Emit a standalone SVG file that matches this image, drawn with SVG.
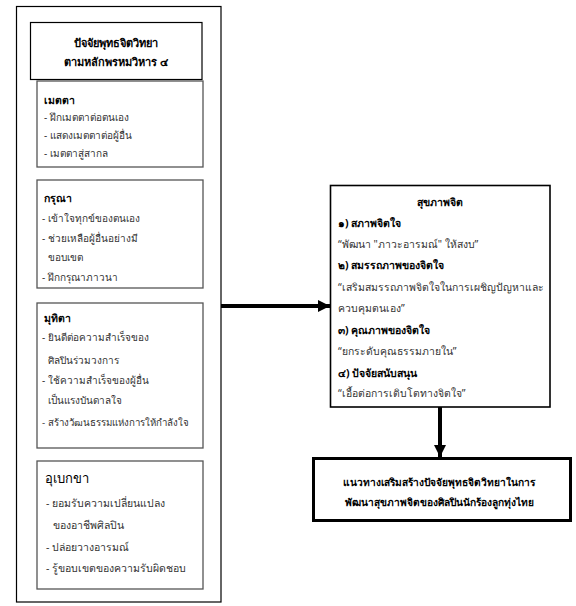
<svg xmlns="http://www.w3.org/2000/svg" width="576" height="606" viewBox="0 0 576 606">
<style>
text{font-family:"Noto Sans","DejaVu Sans","Liberation Sans",sans-serif;fill:#333;font-size:10px}
.h{font-weight:bold;fill:#000;font-size:10.5px}
.t{font-weight:bold;fill:#000;font-size:11px;text-anchor:middle}
.r{font-size:10.4px}
.inner{fill:#fff;stroke:#555;stroke-width:1.3}
.blk{fill:#fff;stroke:#000;stroke-width:1.2}
.con{stroke:#000;stroke-width:4;fill:none}
</style>
<defs>
<marker id="ah" markerUnits="userSpaceOnUse" markerWidth="12" markerHeight="12" refX="12" refY="6" orient="auto">
<path d="M0,0 L12,6 L0,12 Z" fill="#000"/>
</marker>
</defs>
<rect width="576" height="606" fill="#fff"/>
<g id="outer">
<rect x="16.5" y="6.5" width="204.5" height="595.5" class="blk"/>
</g>
<g id="title">
<rect x="30.5" y="22.5" width="171.5" height="57" class="blk"/>
<text class="t" x="116" y="47">ปัจจัยพุทธจิตวิทยา</text>
<text class="t" x="116" y="66">ตามหลักพรหมวิหาร ๔</text>
</g>
<g id="metta">
<rect x="37" y="81" width="166" height="86" class="inner"/>
<text class="h" x="44" y="104">เมตตา</text>
<text x="44" y="121">- ฝึกเมตตาต่อตนเอง</text>
<text x="44" y="139">- แสดงเมตตาต่อผู้อื่น</text>
<text x="44" y="157">- เมตตาสู่สากล</text>
</g>
<g id="karuna">
<rect x="37" y="180" width="166" height="108" class="inner"/>
<text class="h" x="44" y="202">กรุณา</text>
<text x="42" y="222">- เข้าใจทุกข์ของตนเอง</text>
<text x="42" y="242">- ช่วยเหลือผู้อื่นอย่างมี</text>
<text x="48" y="261">ขอบเขต</text>
<text x="42" y="281">- ฝึกกรุณาภาวนา</text>
</g>
<g id="mudita">
<rect x="37" y="303" width="166" height="145" class="inner"/>
<text class="h" x="44" y="322">มุทิตา</text>
<text x="42" y="341">- ยินดีต่อความสำเร็จของ</text>
<text x="48" y="364">ศิลปินร่วมวงการ</text>
<text x="42" y="384">- ใช้ความสำเร็จของผู้อื่น</text>
<text x="48" y="404">เป็นแรงบันดาลใจ</text>
<text x="42" y="426" style="font-size:9.7px">- สร้างวัฒนธรรมแห่งการให้กำลังใจ</text>
</g>
<g id="uppekha">
<rect x="37" y="461" width="166" height="128" class="inner"/>
<text x="45" y="483" style="font-size:13px;fill:#000;font-weight:500">อุเบกขา</text>
<text x="46" y="507" style="font-size:10.5px">- ยอมรับความเปลี่ยนแปลง</text>
<text x="53" y="529" style="font-size:10.5px">ของอาชีพศิลปิน</text>
<text x="46" y="551" style="font-size:10.5px">- ปล่อยวางอารมณ์</text>
<text x="46" y="572" style="font-size:10.5px">- รู้ขอบเขตของความรับผิดชอบ</text>
</g>
<g id="connectors">
<line x1="221" y1="306" x2="330" y2="306" class="con" marker-end="url(#ah)"/>
<line x1="440" y1="407" x2="440" y2="457" class="con" marker-end="url(#ah)"/>
</g>
<g id="mental-health">
<rect x="330.5" y="185.5" width="219.5" height="221.5" fill="#fff" stroke="#000" stroke-width="1.6"/>
<text class="t" x="440" y="206" style="font-size:10.5px">สุขภาพจิต</text>
<text class="h" x="338" y="227">๑) สภาพจิตใจ</text>
<text class="r" x="338" y="248">“พัฒนา "ภาวะอารมณ์" ให้สงบ”</text>
<text class="h" x="338" y="269">๒) สมรรถภาพของจิตใจ</text>
<text class="r" x="338" y="291">“เสริมสมรรถภาพจิตใจในการเผชิญปัญหาและ</text>
<text class="r" x="338" y="312">ควบคุมตนเอง”</text>
<text class="h" x="338" y="334">๓) คุณภาพของจิตใจ</text>
<text class="r" x="338" y="355">“ยกระดับคุณธรรมภายใน”</text>
<text class="h" x="338" y="377">๔) ปัจจัยสนับสนุน</text>
<text class="r" x="338" y="397">“เอื้อต่อการเติบโตทางจิตใจ”</text>
</g>
<g id="guideline">
<rect x="313.5" y="458.5" width="257" height="62" fill="#fff" stroke="#000" stroke-width="3"/>
<text class="t" x="439" y="486" style="font-size:10.2px">แนวทางเสริมสร้างปัจจัยพุทธจิตวิทยาในการ</text>
<text class="t" x="439" y="506" style="font-size:10.2px">พัฒนาสุขภาพจิตของศิลปินนักร้องลูกทุ่งไทย</text>
</g>
</svg>
